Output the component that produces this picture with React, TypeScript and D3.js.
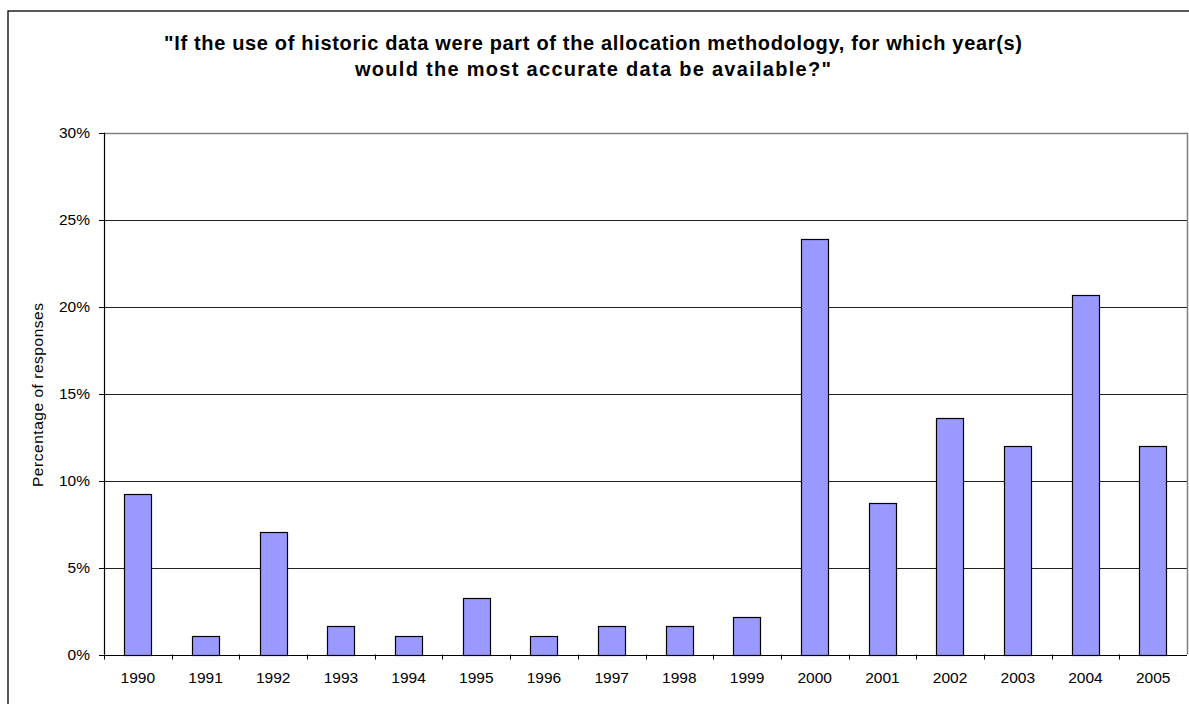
import React from "react";
import * as d3 from "d3";

const years = ["1990","1991","1992","1993","1994","1995","1996","1997","1998","1999","2000","2001","2002","2003","2004","2005"];
const values = [9.24, 1.09, 7.07, 1.63, 1.09, 3.26, 1.09, 1.63, 1.63, 2.17, 23.91, 8.70, 13.59, 11.96, 20.65, 11.96];
const yTicks = [0, 5, 10, 15, 20, 25, 30];
const titleLines = [
  "\"If the use of historic data were part of the allocation methodology, for which year(s)",
  "would the most accurate data be available?\"",
];
const yAxisTitle = "Percentage of responses";

const W = 1189, H = 704;
const plot = { left: 104, right: 1187, top: 132.7, bottom: 654.5 };
const FONT = "'Liberation Sans', Arial, sans-serif";
const titleWidths = [858, 476];

export default function App() {
  const x = d3.scaleBand<string>().domain(years).range([plot.left, plot.right]).padding(0);
  const y = d3.scaleLinear().domain([0, 30]).range([plot.bottom, plot.top]);
  const bw = x.bandwidth();
  const barW = bw * 0.405;

  return (
    <svg width={W} height={H} style={{ position: "absolute", left: 0, top: 0, display: "block", background: "#fff" }}>
      <rect x={8} y={11} width={W + 20} height={H + 20} fill="#fff" stroke="#000" strokeWidth={1.3} />
      {titleLines.map((t, i) => (
        <text key={i} x={593} y={50 + i * 26} textAnchor="middle" fontFamily={FONT} fontWeight="bold" fontSize={20} textLength={titleWidths[i]} lengthAdjust="spacing" fill="#000">{t}</text>
      ))}
      {yTicks.filter(t => t > 0 && t < 30).map(t => (
        <line key={t} x1={plot.left} x2={plot.right} y1={Math.round(y(t)) + 0.5} y2={Math.round(y(t)) + 0.5} stroke="#202020" strokeWidth={1} />
      ))}
      <line x1={plot.left} x2={plot.right} y1={Math.round(plot.top) + 0.5} y2={Math.round(plot.top) + 0.5} stroke="#808080" strokeWidth={1.5} />
      <line x1={Math.round(plot.right) + 0.5} x2={Math.round(plot.right) + 0.5} y1={plot.top} y2={plot.bottom} stroke="#808080" strokeWidth={1.5} />
      {years.map((yr, i) => {
        const cx = (x(yr) as number) + bw / 2;
        const top = y(values[i]);
        return (
          <rect key={yr} x={Math.round(cx - barW / 2) + 0.5} y={Math.round(top) + 0.5} width={Math.round(barW)} height={Math.round(plot.bottom) - Math.round(top)} fill="#9999FF" stroke="#000" strokeWidth={1.2} />
        );
      })}
      <line x1={plot.left + 0.5} x2={plot.left + 0.5} y1={plot.top} y2={plot.bottom} stroke="#000" strokeWidth={1.2} />
      {yTicks.map(t => (
        <g key={t}>
          <line x1={plot.left - 5} x2={plot.left} y1={Math.round(y(t)) + 0.5} y2={Math.round(y(t)) + 0.5} stroke="#000" strokeWidth={1} />
          <text x={90} y={y(t) + 5.5} textAnchor="end" fontFamily={FONT} fontSize={15.5} fill="#000">{t}%</text>
        </g>
      ))}
      <line x1={plot.left} x2={plot.right} y1={Math.round(plot.bottom) + 0.5} y2={Math.round(plot.bottom) + 0.5} stroke="#000" strokeWidth={1.2} />
      {years.map(yr => (
        <line key={"t" + yr} x1={Math.round(x(yr) as number) + 0.5} x2={Math.round(x(yr) as number) + 0.5} y1={plot.bottom} y2={plot.bottom + 5} stroke="#000" strokeWidth={1} />
      ))}
      {years.map(yr => (
        <text key={"l" + yr} x={(x(yr) as number) + bw / 2} y={683} textAnchor="middle" fontFamily={FONT} fontSize={15.5} fill="#000">{yr}</text>
      ))}
      <text transform={`translate(43,395) rotate(-90)`} textAnchor="middle" fontFamily={FONT} fontSize={15.5} textLength={184} lengthAdjust="spacing" fill="#000">{yAxisTitle}</text>
    </svg>
  );
}
